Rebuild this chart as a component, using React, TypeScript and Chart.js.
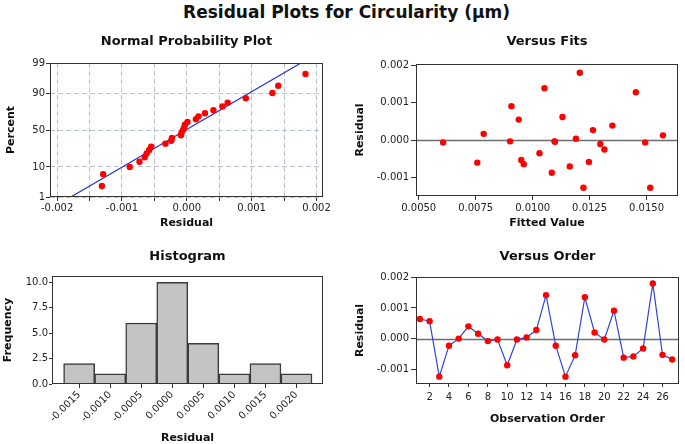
import React, { useEffect, useRef } from 'react';
import { Chart, registerables, LinearScale } from 'chart.js';

Chart.register(...registerables);

// ---------- Data ----------
// Normal probability plot (sorted residuals, plotted percent)
const NPP_RESIDUALS = [-0.00131, -0.00129, -0.00088, -0.00073, -0.00065, -0.00062, -0.00058, -0.00055, -0.00033, -0.00024, -0.00023, -0.00009, -0.00008, -0.00006, -0.00004, -0.00003, 0.00001, 0.00014, 0.00018, 0.00028, 0.00041, 0.00055, 0.00063, 0.00091, 0.00132, 0.00141, 0.00183];
const NPP_PERCENT = [2.6, 6.2, 9.9, 13.5, 17.2, 20.8, 24.5, 28.1, 31.8, 35.4, 39.1, 42.7, 46.4, 50.0, 53.6, 57.3, 60.9, 64.6, 68.2, 71.9, 75.5, 79.2, 82.8, 86.5, 90.1, 93.8, 97.4];
const NPP_FIT_RESIDUALS = [-0.00179, 0.00176];
const NPP_FIT_PERCENT = [1, 99];
const NPP_X_TICKS = [-0.002, -0.0015, -0.001, -0.0005, 0, 0.0005, 0.001, 0.0015, 0.002];
const NPP_Y_TICKS = [1, 10, 50, 90, 99];

// Versus fits
const FITTED_VALUES = [0.00607, 0.00757, 0.00785, 0.00901, 0.00907, 0.00939, 0.0095, 0.00961, 0.0103, 0.01052, 0.01084, 0.01096, 0.01131, 0.01163, 0.0119, 0.01207, 0.01223, 0.01247, 0.01265, 0.01297, 0.01315, 0.0135, 0.01453, 0.01494, 0.01516, 0.01572, 0.01098];
const FIT_RESIDUALS = [-0.00006, -0.0006, 0.00017, -0.00003, 0.00091, 0.00055, -0.00053, -0.00064, -0.00035, 0.00139, -0.00087, -0.00003, 0.00062, -0.0007, 0.00004, 0.0018, -0.00127, -0.00058, 0.00027, -0.0001, -0.00025, 0.00039, 0.00128, -0.00006, -0.00127, 0.00013, -0.00004];
const FITS_X_TICKS = [0.005, 0.0075, 0.01, 0.0125, 0.015];
const RESID_Y_TICKS = [-0.001, 0, 0.001, 0.002];

// Histogram
const HIST_BIN_CENTERS = [-0.0015, -0.001, -0.0005, 0, 0.0005, 0.001, 0.0015, 0.002];
const HIST_COUNTS = [2, 1, 6, 10, 4, 1, 2, 1];
const HIST_Y_TICKS = [0, 2.5, 5, 7.5, 10];

// Versus order
const OBS_ORDER = [1, 2, 3, 4, 5, 6, 7, 8, 9, 10, 11, 12, 13, 14, 15, 16, 17, 18, 19, 20, 21, 22, 23, 24, 25, 26, 27];
const ORDER_RESIDUALS = [0.00064, 0.00057, -0.00124, -0.00023, 0.0, 0.0004, 0.00016, -0.00008, -0.00003, -0.00087, -0.00003, 0.00004, 0.00028, 0.00142, -0.00023, -0.00124, -0.00054, 0.00135, 0.0002, -0.00003, 0.00091, -0.00062, -0.00058, -0.00032, 0.0018, -0.00053, -0.00068];
const ORDER_X_TICKS = [2, 4, 6, 8, 10, 12, 14, 16, 18, 20, 22, 24, 26];

// ---------- Helpers ----------
const FONT = '"DejaVu Sans", Verdana, sans-serif';
const TICK_FONT = { family: FONT, size: 10 };
const AXIS_TITLE_FONT = { family: FONT, size: 11, weight: 'bold' as const, lineHeight: 1 };
const PANEL_TITLE_FONT = { family: FONT, size: 13, weight: 'bold' as const, lineHeight: 1.2 };
const TEXT = '#222';
const RED = '#ff0000';
const BLUE = '#2233cc';

function probit(p: number): number {
  const a = [-3.969683028665376e1, 2.209460984245205e2, -2.759285104469687e2, 1.38357751867269e2, -3.066479806614716e1, 2.506628277459239];
  const b = [-5.447609879822406e1, 1.615858368580409e2, -1.556989798598866e2, 6.680131188771972e1, -1.328068155288572e1];
  const c = [-7.784894002430293e-3, -3.223964580411365e-1, -2.400758277161838, -2.549732539343734, 4.374664141464968, 2.938163982698783];
  const d = [7.784695709041462e-3, 3.224671290700398e-1, 2.445134137142996, 3.754408661907416];
  if (p <= 0) return -8;
  if (p >= 1) return 8;
  const pl = 0.02425;
  if (p < pl) {
    const q = Math.sqrt(-2 * Math.log(p));
    return (((((c[0] * q + c[1]) * q + c[2]) * q + c[3]) * q + c[4]) * q + c[5]) / ((((d[0] * q + d[1]) * q + d[2]) * q + d[3]) * q + 1);
  }
  if (p <= 1 - pl) {
    const q = p - 0.5;
    const r = q * q;
    return ((((((a[0] * r + a[1]) * r + a[2]) * r + a[3]) * r + a[4]) * r + a[5]) * q) / (((((b[0] * r + b[1]) * r + b[2]) * r + b[3]) * r + b[4]) * r + 1);
  }
  const q = Math.sqrt(-2 * Math.log(1 - p));
  return -(((((c[0] * q + c[1]) * q + c[2]) * q + c[3]) * q + c[4]) * q + c[5]) / ((((d[0] * q + d[1]) * q + d[2]) * q + d[3]) * q + 1);
}

function normCdf(z: number): number {
  const t = 1 / (1 + 0.2316419 * Math.abs(z));
  const dd = 0.3989423 * Math.exp((-z * z) / 2);
  const p = dd * t * (0.3193815 + t * (-0.3565638 + t * (1.781478 + t * (-1.821256 + t * 1.330274))));
  return z > 0 ? 1 - p : p;
}

// Normal-probability (percent) scale
class ProbitScale extends (LinearScale as any) {
  static id = 'probit';
  static defaults = {};
  configure() {
    super.configure();
    (this as any)._zs = probit(this.min / 100);
    (this as any)._zr = probit(this.max / 100) - (this as any)._zs;
  }
  getPixelForValue(value: number) {
    return this.getPixelForDecimal((probit(value / 100) - (this as any)._zs) / (this as any)._zr);
  }
  getValueForPixel(pixel: number) {
    const z = (this as any)._zs + this.getDecimalForPixel(pixel) * (this as any)._zr;
    return 100 * normCdf(z);
  }
}
Chart.register(ProbitScale as any);

const framePlugin = {
  id: 'frame',
  afterDraw(chart: any) {
    const { ctx, chartArea } = chart;
    const { left, top, right, bottom } = chartArea;
    ctx.save();
    ctx.strokeStyle = '#333';
    ctx.lineWidth = 1;
    ctx.strokeRect(Math.round(left) + 0.5, Math.round(top) + 0.5, Math.round(right - left) - 1, Math.round(bottom - top) - 1);
    ctx.restore();
  },
};

const zeroLinePlugin = {
  id: 'zeroLine',
  beforeDatasetsDraw(chart: any, _args: any, opts: any) {
    if (!opts || !opts.enabled) return;
    const { ctx, chartArea } = chart;
    const y = Math.round(chart.scales.y.getPixelForValue(0)) + 0.5;
    ctx.save();
    ctx.strokeStyle = '#6e6e6e';
    ctx.lineWidth = 1.5;
    ctx.beginPath();
    ctx.moveTo(chartArea.left, y);
    ctx.lineTo(chartArea.right, y);
    ctx.stroke();
    ctx.restore();
  },
};

const setTicks = (values: number[]) => (scale: any) => {
  scale.ticks = values.map((v) => ({ value: v }));
};
const fixWidth = (w: number) => (scale: any) => {
  scale.width = w;
};
const fixHeight = (h: number) => (scale: any) => {
  scale.height = h;
};
const fmt = (d: number) => (v: any) => Number(v).toFixed(d);

const plainGrid = { drawOnChartArea: false, drawTicks: true, tickLength: 4, tickColor: '#333', tickWidth: 1 };

function panelTitle(text: string, top: number, bottom: number) {
  return {
    display: true,
    text,
    fullSize: false,
    color: '#111',
    font: PANEL_TITLE_FONT,
    padding: { top, bottom },
  };
}

function axisTitle(text: string, padding: any) {
  return { display: true, text, color: '#111', font: AXIS_TITLE_FONT, padding };
}

const baseOptions = {
  animation: false as const,
  responsive: false,
  maintainAspectRatio: false,
  events: [] as any[],
};

function nppConfig(): any {
  const dashedGrid = { color: '#b9bdd0', lineWidth: 1, drawTicks: true, tickLength: 4, tickColor: '#333', tickBorderDash: [] };
  return {
    type: 'scatter',
    data: {
      datasets: [
        {
          data: NPP_FIT_RESIDUALS.map((x, i) => ({ x, y: NPP_FIT_PERCENT[i] })),
          showLine: true,
          borderColor: BLUE,
          borderWidth: 1.2,
          pointRadius: 0,
          order: 2,
        },
        {
          data: NPP_RESIDUALS.map((x, i) => ({ x, y: NPP_PERCENT[i] })),
          backgroundColor: RED,
          borderWidth: 0,
          pointRadius: 3.2,
          order: 1,
        },
      ],
    },
    options: {
      ...baseOptions,
      layout: { padding: { left: 0, right: 17, top: 0, bottom: 0 } },
      plugins: {
        legend: { display: false },
        tooltip: { enabled: false },
        title: panelTitle('Normal Probability Plot', 6.2, 13.2),
      },
      scales: {
        x: {
          type: 'linear',
          min: -0.00211,
          max: 0.0021,
          afterBuildTicks: setTicks(NPP_X_TICKS),
          afterFit: fixHeight(35),
          grid: dashedGrid,
          border: { display: false, dash: [5, 3] },
          ticks: {
            font: TICK_FONT,
            color: TEXT,
            padding: 1,
            maxRotation: 0,
            autoSkip: false,
            callback: (v: any) => (Math.abs(Number(v) * 1000 - Math.round(Number(v) * 1000)) < 1e-9 ? Number(v).toFixed(3) : ''),
          },
          title: axisTitle('Residual', { top: 0, bottom: 3.5 }),
        },
        y: {
          type: 'probit',
          position: 'left',
          min: 1,
          max: 99,
          afterBuildTicks: setTicks(NPP_Y_TICKS),
          afterFit: fixWidth(50),
          grid: dashedGrid,
          border: { display: false, dash: [5, 3] },
          ticks: { font: TICK_FONT, color: TEXT, padding: 1, autoSkip: false, callback: (v: any) => String(v) },
          title: axisTitle('Percent', { top: 5.5, bottom: 0 }),
        },
      },
    },
    plugins: [framePlugin],
  };
}

function fitsConfig(): any {
  return {
    type: 'scatter',
    data: {
      datasets: [
        {
          data: FITTED_VALUES.map((x, i) => ({ x, y: FIT_RESIDUALS[i] })),
          backgroundColor: RED,
          borderWidth: 0,
          pointRadius: 3.2,
        },
      ],
    },
    options: {
      ...baseOptions,
      layout: { padding: { left: 0, right: 7, top: 0, bottom: 0 } },
      plugins: {
        legend: { display: false },
        tooltip: { enabled: false },
        title: panelTitle('Versus Fits', 6.2, 14.2),
        zeroLine: { enabled: true },
      },
      scales: {
        x: {
          type: 'linear',
          min: 0.00488,
          max: 0.01638,
          afterBuildTicks: setTicks(FITS_X_TICKS),
          afterFit: fixHeight(36),
          grid: plainGrid,
          border: { display: false },
          ticks: { font: TICK_FONT, color: TEXT, padding: 2, maxRotation: 0, autoSkip: false, callback: fmt(4) },
          title: axisTitle('Fitted Value', { top: 0, bottom: 3.5 }),
        },
        y: {
          type: 'linear',
          min: -0.00149,
          max: 0.002035,
          afterBuildTicks: setTicks(RESID_Y_TICKS),
          afterFit: fixWidth(76),
          grid: { ...plainGrid, tickLength: 5 },
          border: { display: false },
          ticks: { font: TICK_FONT, color: TEXT, padding: 2, autoSkip: false, callback: fmt(3) },
          title: axisTitle('Residual', { top: 14.5, bottom: 0 }),
        },
      },
    },
    plugins: [zeroLinePlugin, framePlugin],
  };
}

function histConfig(): any {
  return {
    type: 'bar',
    data: {
      datasets: [
        {
          data: HIST_BIN_CENTERS.map((x, i) => ({ x, y: HIST_COUNTS[i] })),
          backgroundColor: '#c4c4c4',
          borderColor: '#3a3a3a',
          borderWidth: 1.5,
          barPercentage: 1,
          categoryPercentage: 1,
        },
      ],
    },
    options: {
      ...baseOptions,
      layout: { padding: { left: 0, right: 17, top: 0, bottom: 0 } },
      plugins: {
        legend: { display: false },
        tooltip: { enabled: false },
        title: panelTitle('Histogram', 11.2, 11.2),
      },
      scales: {
        x: {
          type: 'linear',
          offset: false,
          min: -0.001937,
          max: 0.002427,
          afterBuildTicks: setTicks(HIST_BIN_CENTERS),
          afterFit: fixHeight(60),
          grid: { ...plainGrid, offset: false },
          border: { display: false },
          ticks: { font: TICK_FONT, color: TEXT, padding: 1, minRotation: 45, maxRotation: 45, autoSkip: false, callback: fmt(4) },
          title: axisTitle('Residual', { top: 0, bottom: 0.5 }),
        },
        y: {
          type: 'linear',
          min: 0,
          max: 10.62,
          afterBuildTicks: setTicks(HIST_Y_TICKS),
          afterFit: fixWidth(52),
          grid: { ...plainGrid, tickLength: 3 },
          border: { display: false },
          ticks: { font: TICK_FONT, color: TEXT, padding: 1, autoSkip: false, callback: fmt(1) },
          title: axisTitle('Frequency', { top: 2.5, bottom: 0 }),
        },
      },
    },
    plugins: [framePlugin],
  };
}

function orderConfig(): any {
  return {
    type: 'scatter',
    data: {
      datasets: [
        {
          data: OBS_ORDER.map((x, i) => ({ x, y: ORDER_RESIDUALS[i] })),
          showLine: true,
          borderColor: '#2f44dc',
          borderWidth: 1.2,
          backgroundColor: RED,
          pointBackgroundColor: RED,
          pointBorderWidth: 0,
          pointRadius: 3.2,
        },
      ],
    },
    options: {
      ...baseOptions,
      layout: { padding: { left: 0, right: 6, top: 0, bottom: 0 } },
      plugins: {
        legend: { display: false },
        tooltip: { enabled: false },
        title: panelTitle('Versus Order', 11.2, 12.2),
        zeroLine: { enabled: true },
      },
      scales: {
        x: {
          type: 'linear',
          min: 0.6,
          max: 27.7,
          afterBuildTicks: setTicks(ORDER_X_TICKS),
          afterFit: fixHeight(60),
          grid: { ...plainGrid, tickLength: 3 },
          border: { display: false },
          ticks: { font: TICK_FONT, color: TEXT, padding: 4, maxRotation: 0, autoSkip: false, callback: (v: any) => String(v) },
          title: axisTitle('Observation Order', { top: 0, bottom: 19.5 }),
        },
        y: {
          type: 'linear',
          min: -0.00148,
          max: 0.00201,
          afterBuildTicks: setTicks(RESID_Y_TICKS),
          afterFit: fixWidth(76),
          grid: { ...plainGrid, tickLength: 5 },
          border: { display: false },
          ticks: { font: TICK_FONT, color: TEXT, padding: 2, autoSkip: false, callback: fmt(3) },
          title: axisTitle('Residual', { top: 14.5, bottom: 0 }),
        },
      },
    },
    plugins: [zeroLinePlugin, framePlugin],
  };
}

const PANELS = [
  { key: 'npp', left: 0, top: 28, width: 340, height: 204, make: nppConfig },
  { key: 'fits', left: 340, top: 28, width: 345, height: 204, make: fitsConfig },
  { key: 'hist', left: 0, top: 238, width: 340, height: 206, make: histConfig },
  { key: 'order', left: 340, top: 238, width: 345, height: 206, make: orderConfig },
];

export default function App() {
  const refs = useRef<(HTMLCanvasElement | null)[]>([]);

  useEffect(() => {
    const charts = PANELS.map((p, i) => new Chart(refs.current[i] as HTMLCanvasElement, p.make()));
    return () => charts.forEach((c) => c.destroy());
  }, []);

  return (
    <div
      style={{
        position: 'fixed',
        left: 0,
        top: 0,
        width: 685,
        height: 444,
        background: '#ffffff',
        overflow: 'hidden',
        fontFamily: FONT,
      }}
    >
      <div
        style={{
          position: 'absolute',
          left: 4,
          top: 2,
          width: 685,
          textAlign: 'center',
          fontSize: 17,
          lineHeight: '20px',
          fontWeight: 'bold',
          color: '#111',
        }}
      >
        Residual Plots for Circularity (µm)
      </div>
      {PANELS.map((p, i) => (
        <canvas
          key={p.key}
          ref={(el) => {
            refs.current[i] = el;
          }}
          width={p.width}
          height={p.height}
          style={{ position: 'absolute', left: p.left, top: p.top, width: p.width, height: p.height, display: 'block' }}
        />
      ))}
    </div>
  );
}
